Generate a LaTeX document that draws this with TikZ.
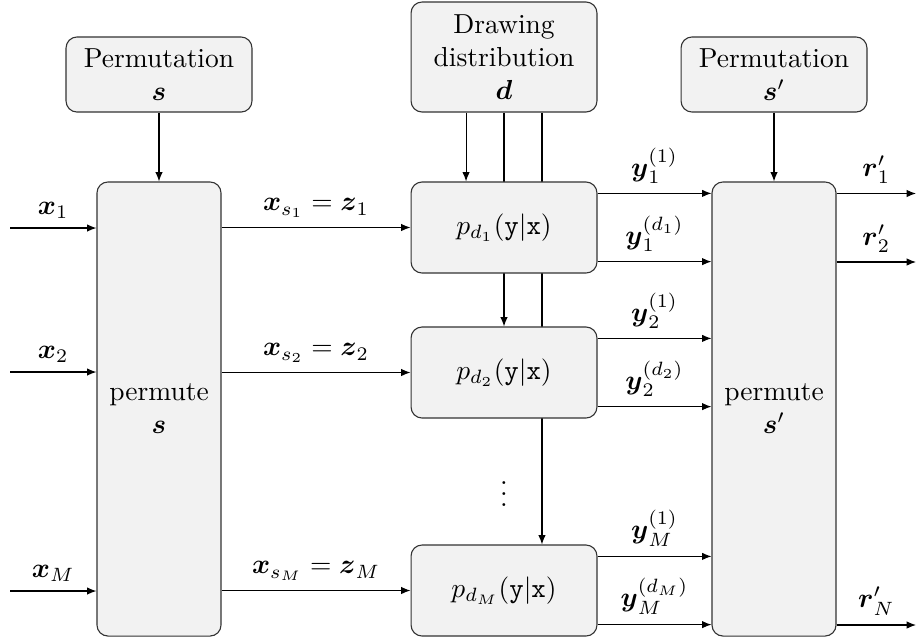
\documentclass[tikz,border=0pt]{standalone}
\usepackage{amsmath,amssymb}
\usepackage{tikz}
\usetikzlibrary{shapes,arrows,arrows.meta,positioning,calc,backgrounds}

\begin{document}
\begin{tikzpicture}[x=0.3636pt, y=-0.3636pt,
        box/.style={draw=black!80, fill=gray!10, rounded corners, align=center, minimum width=67.6pt},
        permbox/.style={box, minimum width=45.1pt, minimum height=165.1pt},
        pbox/.style={box, minimum height=33.1pt},
        arr/.style={-{Latex[length=3.4pt,width=2.7pt]}, black}]
    \useasboundingbox (0,0) rectangle (916,641);

    % Permutations and drawing distribution
    \node[box, minimum height=27.3pt] (perm1) at (159,74.5) {Permutation\\ $\boldsymbol{s}$};
    \node[box, minimum height=40pt] (dist) at (504,57) {Drawing\\ distribution\\ $\boldsymbol{d}$};
    \node[box, minimum height=27.3pt] (perm2) at (774,74.5) {Permutation\\ $\boldsymbol{s}'$};

    % Permute blocks
    \node[permbox] (ps1) at (159,409) {permute\\ $\boldsymbol{s}$};
    \node[permbox] (ps2) at (774,409) {permute\\ $\boldsymbol{s}'$};

    % Channels
    \node[pbox] (p1) at (504,227.5) {$p_{d_1}(\mathtt{y}|\mathtt{x})$};
    \node[pbox] (p2) at (504,372.5) {$p_{d_2}(\mathtt{y}|\mathtt{x})$};
    \node[pbox] (pM) at (504,590.5) {$p_{d_M}(\mathtt{y}|\mathtt{x})$};
    \node (dots) at (504,486) {$\vdots$};

    % Free ends
    \coordinate (in1) at (10,228);
    \coordinate (in2) at (10,372);
    \coordinate (inM) at (10,591);
    \coordinate (out1) at (916,193.5);
    \coordinate (out2) at (916,262);
    \coordinate (outN) at (916,625);

    % Lines from the distribution
    \begin{scope}[on background layer]
        \draw[arr] ([xshift=-13.8pt]dist.south) -- ([xshift=-13.8pt]p1.north);
        \draw[arr] (dist.south) -- (p2.north);
        \draw[arr] ([xshift=13.8pt]dist.south) -- ([xshift=13.8pt]pM.north);
    \end{scope}

    \draw[arr] (perm1.south) -- (ps1.north);
    \draw[arr] (perm2.south) -- (ps2.north);

    % Inputs
    \draw[arr] (in1) -- (in1 -| ps1.west) node[midway, above] {$\boldsymbol{x}_1$};
    \draw[arr] (in2) -- (in2 -| ps1.west) node[midway, above] {$\boldsymbol{x}_2$};
    \draw[arr] (inM) -- (inM -| ps1.west) node[midway, above] {$\boldsymbol{x}_M$};

    % Permuted inputs
    \draw[arr] (ps1.east |- p1) -- (p1.west) node[midway, above] {$\boldsymbol{x}_{s_1} = \boldsymbol{z}_1$};
    \draw[arr] (ps1.east |- p2) -- (p2.west) node[midway, above] {$\boldsymbol{x}_{s_2} = \boldsymbol{z}_2$};
    \draw[arr] (ps1.east |- pM) -- (pM.west) node[midway, above] {$\boldsymbol{x}_{s_M} = \boldsymbol{z}_M$};

    % Channel outputs
    \draw[arr] ([yshift=12.4pt]p1.east) -- ([yshift=12.4pt]p1.east -| ps2.west) node[midway, above] {$\boldsymbol{y}_1^{(1)}$};
    \draw[arr] ([yshift=-12.4pt]p1.east) -- ([yshift=-12.4pt]p1.east -| ps2.west) node[midway, above] {$\boldsymbol{y}_1^{(d_1)}$};
    \draw[arr] ([yshift=12.4pt]p2.east) -- ([yshift=12.4pt]p2.east -| ps2.west) node[midway, above] {$\boldsymbol{y}_2^{(1)}$};
    \draw[arr] ([yshift=-12.4pt]p2.east) -- ([yshift=-12.4pt]p2.east -| ps2.west) node[midway, above] {$\boldsymbol{y}_2^{(d_2)}$};
    \draw[arr] ([yshift=12.4pt]pM.east) -- ([yshift=12.4pt]pM.east -| ps2.west) node[midway, above] {$\boldsymbol{y}_M^{(1)}$};
    \draw[arr] ([yshift=-12.4pt]pM.east) -- ([yshift=-12.4pt]pM.east -| ps2.west) node[midway, above] {$\boldsymbol{y}_M^{(d_M)}$};

    % Outputs
    \draw[arr] (ps2.east |- out1) -- (out1) node[midway, above] {$\boldsymbol{r}'_1$};
    \draw[arr] (ps2.east |- out2) -- (out2) node[midway, above] {$\boldsymbol{r}'_2$};
    \draw[arr] (ps2.east |- outN) -- (outN) node[midway, above] {$\boldsymbol{r}'_N$};
\end{tikzpicture}
\end{document}
